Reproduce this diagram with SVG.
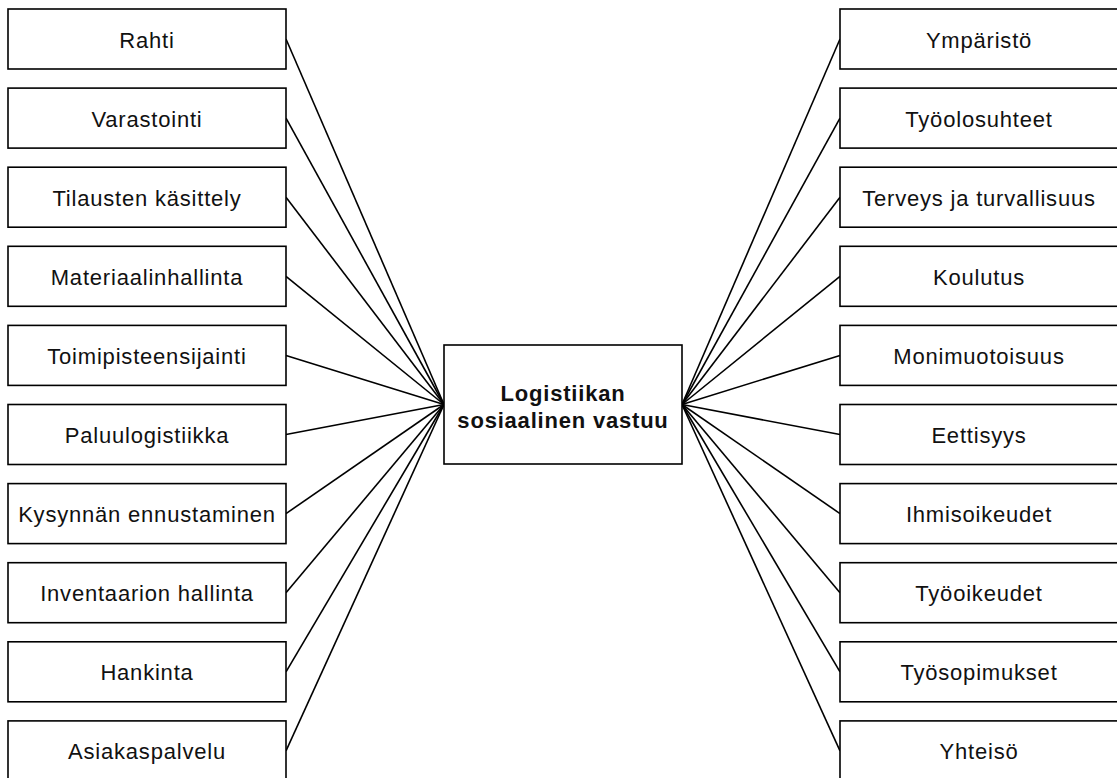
<svg xmlns="http://www.w3.org/2000/svg" width="1117" height="778" viewBox="0 0 1117 778">
<style>
.box{fill:#fff;stroke:#000;stroke-width:1.6}
.lbl{font-family:"Liberation Sans",Arial,sans-serif;font-size:22px;letter-spacing:0.8px;fill:#111;text-anchor:middle}
.ctr{font-weight:bold}
.con{stroke:#000;stroke-width:1.6;fill:none}
</style>
<rect width="1117" height="778" fill="#fff"/>
<g id="connectors">
<line class="con" x1="286" y1="39" x2="444" y2="404.5"/>
<line class="con" x1="286" y1="118.1" x2="444" y2="404.5"/>
<line class="con" x1="286" y1="197.2" x2="444" y2="404.5"/>
<line class="con" x1="286" y1="276.3" x2="444" y2="404.5"/>
<line class="con" x1="286" y1="355.4" x2="444" y2="404.5"/>
<line class="con" x1="286" y1="434.5" x2="444" y2="404.5"/>
<line class="con" x1="286" y1="513.6" x2="444" y2="404.5"/>
<line class="con" x1="286" y1="592.7" x2="444" y2="404.5"/>
<line class="con" x1="286" y1="671.8" x2="444" y2="404.5"/>
<line class="con" x1="286" y1="750.9" x2="444" y2="404.5"/>
<line class="con" x1="682" y1="404.5" x2="840" y2="39"/>
<line class="con" x1="682" y1="404.5" x2="840" y2="118.1"/>
<line class="con" x1="682" y1="404.5" x2="840" y2="197.2"/>
<line class="con" x1="682" y1="404.5" x2="840" y2="276.3"/>
<line class="con" x1="682" y1="404.5" x2="840" y2="355.4"/>
<line class="con" x1="682" y1="404.5" x2="840" y2="434.5"/>
<line class="con" x1="682" y1="404.5" x2="840" y2="513.6"/>
<line class="con" x1="682" y1="404.5" x2="840" y2="592.7"/>
<line class="con" x1="682" y1="404.5" x2="840" y2="671.8"/>
<line class="con" x1="682" y1="404.5" x2="840" y2="750.9"/>
</g>
<g id="center"><rect class="box" x="444" y="345" width="238" height="119"/><text class="lbl ctr" x="563" y="401">Logistiikan</text><text class="lbl ctr" x="563" y="428">sosiaalinen vastuu</text></g>
<g id="l0"><rect class="box" x="8" y="9" width="278" height="60"/><text class="lbl" x="147" y="47.5">Rahti</text></g>
<g id="l1"><rect class="box" x="8" y="88.1" width="278" height="60"/><text class="lbl" x="147" y="126.6">Varastointi</text></g>
<g id="l2"><rect class="box" x="8" y="167.2" width="278" height="60"/><text class="lbl" x="147" y="205.7">Tilausten käsittely</text></g>
<g id="l3"><rect class="box" x="8" y="246.3" width="278" height="60"/><text class="lbl" x="147" y="284.8">Materiaalinhallinta</text></g>
<g id="l4"><rect class="box" x="8" y="325.4" width="278" height="60"/><text class="lbl" x="147" y="363.9">Toimipisteensijainti</text></g>
<g id="l5"><rect class="box" x="8" y="404.5" width="278" height="60"/><text class="lbl" x="147" y="443">Paluulogistiikka</text></g>
<g id="l6"><rect class="box" x="8" y="483.6" width="278" height="60"/><text class="lbl" x="147" y="522.1">Kysynnän ennustaminen</text></g>
<g id="l7"><rect class="box" x="8" y="562.7" width="278" height="60"/><text class="lbl" x="147" y="601.2">Inventaarion hallinta</text></g>
<g id="l8"><rect class="box" x="8" y="641.8" width="278" height="60"/><text class="lbl" x="147" y="680.3">Hankinta</text></g>
<g id="l9"><rect class="box" x="8" y="720.9" width="278" height="60"/><text class="lbl" x="147" y="759.4">Asiakaspalvelu</text></g>
<g id="r0"><rect class="box" x="840" y="9" width="278" height="60"/><text class="lbl" x="979" y="47.5">Ympäristö</text></g>
<g id="r1"><rect class="box" x="840" y="88.1" width="278" height="60"/><text class="lbl" x="979" y="126.6">Työolosuhteet</text></g>
<g id="r2"><rect class="box" x="840" y="167.2" width="278" height="60"/><text class="lbl" x="979" y="205.7">Terveys ja turvallisuus</text></g>
<g id="r3"><rect class="box" x="840" y="246.3" width="278" height="60"/><text class="lbl" x="979" y="284.8">Koulutus</text></g>
<g id="r4"><rect class="box" x="840" y="325.4" width="278" height="60"/><text class="lbl" x="979" y="363.9">Monimuotoisuus</text></g>
<g id="r5"><rect class="box" x="840" y="404.5" width="278" height="60"/><text class="lbl" x="979" y="443">Eettisyys</text></g>
<g id="r6"><rect class="box" x="840" y="483.6" width="278" height="60"/><text class="lbl" x="979" y="522.1">Ihmisoikeudet</text></g>
<g id="r7"><rect class="box" x="840" y="562.7" width="278" height="60"/><text class="lbl" x="979" y="601.2">Työoikeudet</text></g>
<g id="r8"><rect class="box" x="840" y="641.8" width="278" height="60"/><text class="lbl" x="979" y="680.3">Työsopimukset</text></g>
<g id="r9"><rect class="box" x="840" y="720.9" width="278" height="60"/><text class="lbl" x="979" y="759.4">Yhteisö</text></g>
</svg>
